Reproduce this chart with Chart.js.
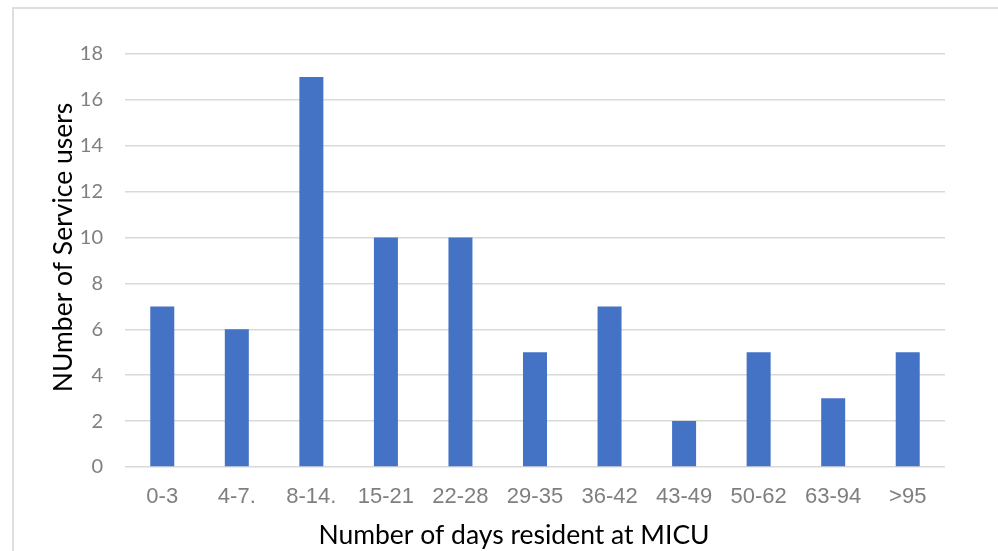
<!DOCTYPE html>
<html>
<head>
<meta charset="utf-8">
<script src="https://cdn.jsdelivr.net/npm/chart.js@4/dist/chart.umd.min.js"></script>
<style>
  html, body { margin: 0; padding: 0; background: #ffffff; overflow: hidden; }
  #wrap { position: relative; width: 998px; height: 551px; }
  #frame { position: absolute; left: 12px; top: 7px; width: 1200px; height: 800px;
           border: 2px solid #dedede; box-sizing: border-box; }
  #chart { position: absolute; left: 0; top: 0; }
</style>
</head>
<body>
<div id="wrap">
  <div id="frame"></div>
  <canvas id="chart" width="998" height="551"></canvas>
</div>
<script>
// Length-of-stay bands (days) and number of service users in each
const categories = ['0-3', '4-7.', '8-14.', '15-21', '22-28', '29-35', '36-42', '43-49', '50-62', '63-94', '>95'];
const serviceUsers = [7, 6, 17, 10, 10, 5, 7, 2, 5, 3, 5];
const yTicks = [0, 2, 4, 6, 8, 10, 12, 14, 16, 18];

const xTitle = 'Number of days resident at MICU';
const yTitle = 'NUmber of Service users';

// Axis titles are centred on the whole chart frame rather than on the plot area
const titleFont = '26.5px Lato, "Open Sans", sans-serif';
const axisTitles = {
  id: 'axisTitles',
  afterDraw(chart) {
    const { ctx, chartArea } = chart;
    ctx.save();
    ctx.fillStyle = '#000000';
    ctx.font = titleFont;
    ctx.textAlign = 'center';
    ctx.textBaseline = 'middle';
    ctx.fillText(xTitle, (chartArea.left + chartArea.right) / 2 - 21, chart.height - 16);
    ctx.translate(63, (chartArea.top + chartArea.bottom) / 2 - 13);
    ctx.rotate(-Math.PI / 2);
    ctx.fillText(yTitle, 0, 0);
    ctx.restore();
  }
};

new Chart(document.getElementById('chart'), {
  type: 'bar',
  data: {
    labels: categories,
    datasets: [{
      data: serviceUsers,
      backgroundColor: '#4472C4',
      borderWidth: 0,
      categoryPercentage: 1,
      barPercentage: 0.322
    }]
  },
  options: {
    responsive: false,
    animation: false,
    events: [],
    layout: { padding: { left: 0, right: 53, top: 54, bottom: 0 } },
    plugins: { legend: { display: false }, tooltip: { enabled: false } },
    scales: {
      x: {
        grid: { display: false },
        border: { display: false },
        ticks: {
          color: '#7f7f7f',
          font: { family: '"Liberation Sans", Arial, sans-serif', size: 22 },
          padding: 9,
          maxRotation: 0,
          autoSkip: false
        },
        afterFit(scale) { scale.height = 84; }
      },
      y: {
        min: 0,
        max: 18,
        afterBuildTicks(scale) { scale.ticks = yTicks.map(v => ({ value: v })); },
        grid: { color: '#d9d9d9', lineWidth: 1.5, drawTicks: false },
        border: { display: false },
        ticks: {
          color: '#7f7f7f',
          font: { family: 'Lato, "Open Sans", sans-serif', size: 20 },
          padding: 22
        },
        afterFit(scale) { scale.width = 125; }
      }
    }
  },
  plugins: [axisTitles]
});
</script>
</body>
</html>
